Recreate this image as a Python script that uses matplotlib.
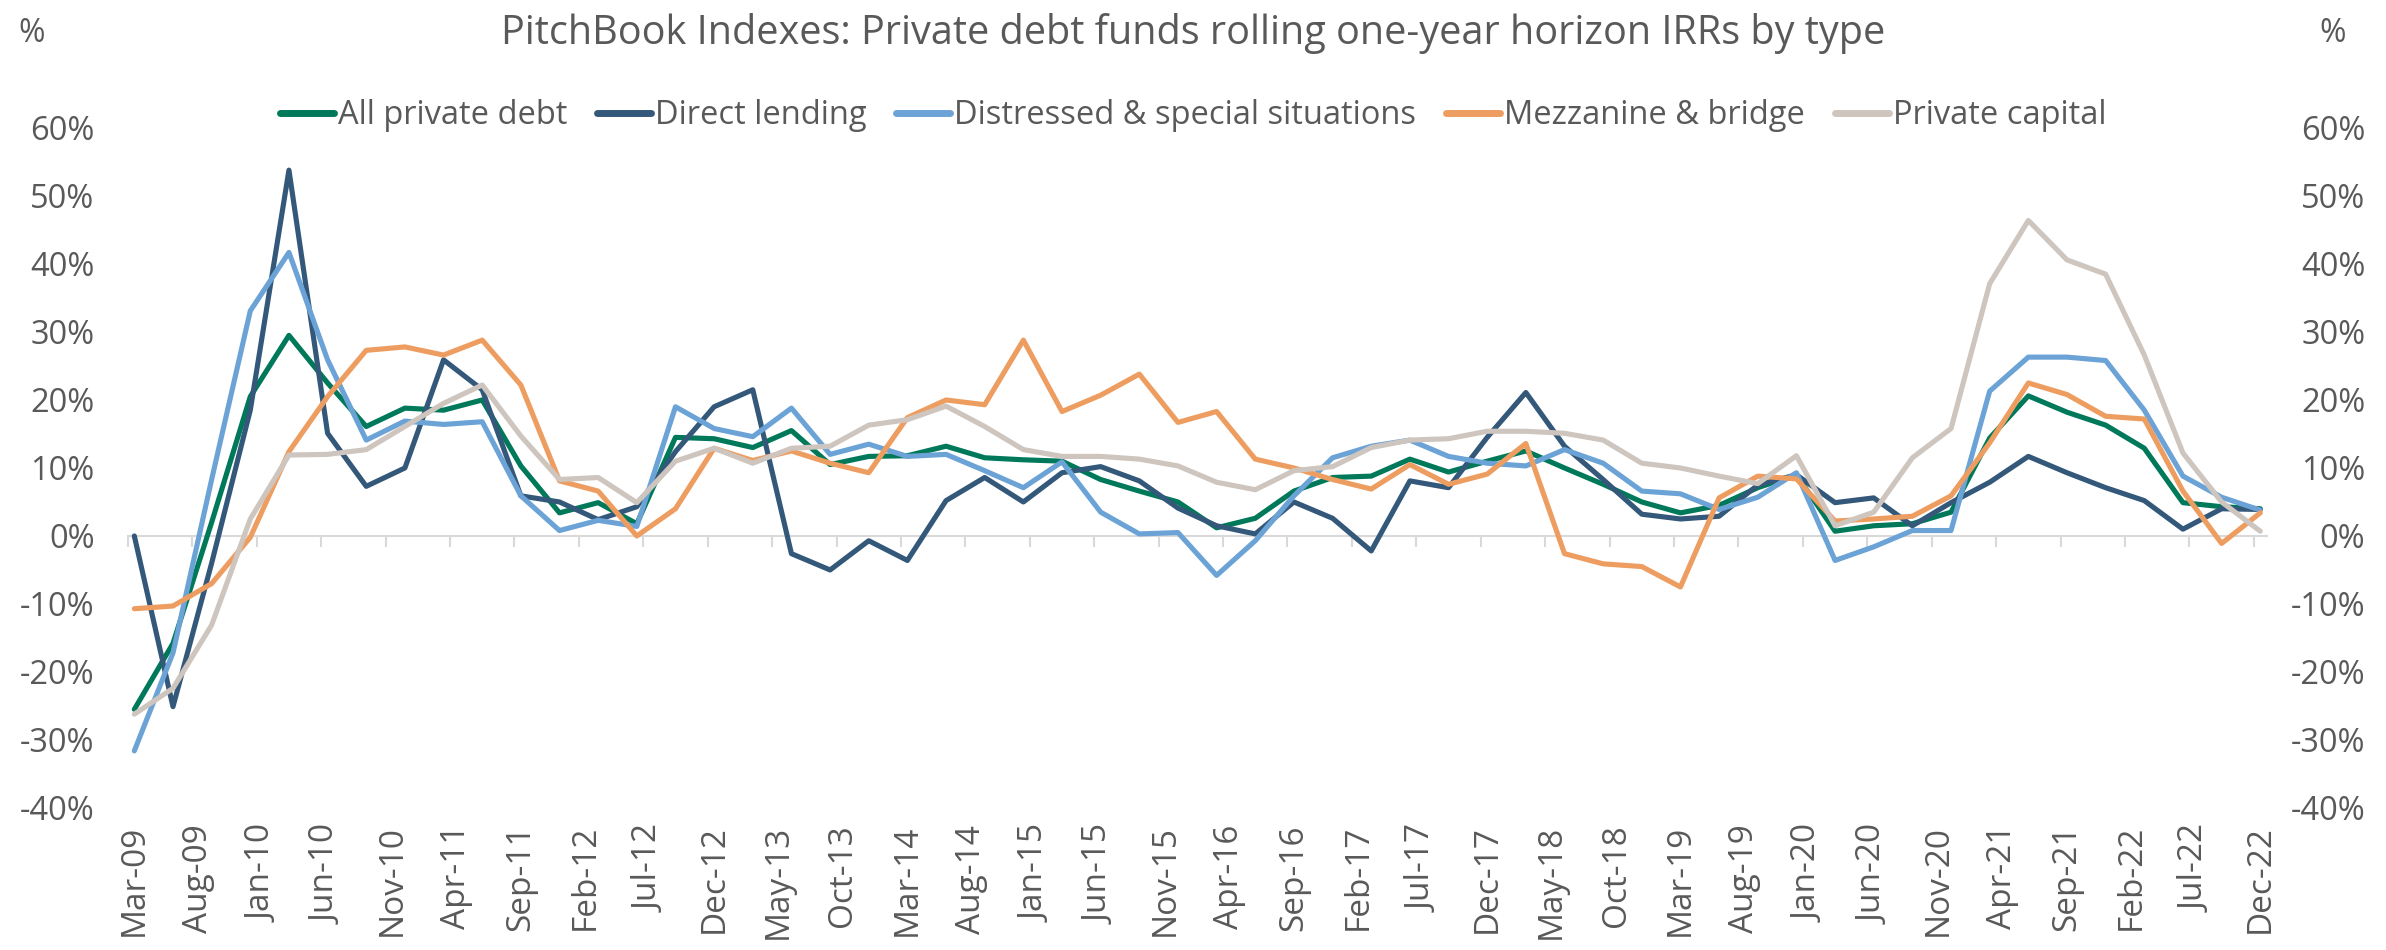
import matplotlib
matplotlib.use("Agg")
import matplotlib.pyplot as plt
import pandas as pd

plt.rcParams["font.family"] = ["Open Sans", "DejaVu Sans"]

TEXT = "#595959"

# quarterly observations, Mar-09 .. Dec-22
quarters = pd.period_range("2009Q1", "2022Q4", freq="Q")

all_private_debt = [
    -25.5, -15.8, 2.0, 20.5, 29.5, 22.5, 16.1, 18.8, 18.5, 20.0,
    10.3, 3.4, 4.9, 1.8, 14.5, 14.3, 13.0, 15.5, 10.5, 11.7,
    11.8, 13.2, 11.5, 11.2, 11.0, 8.3, 6.6, 5.0, 1.2, 2.6,
    6.6, 8.6, 8.8, 11.3, 9.4, 11.0, 12.5, 10.0, 7.6, 5.0,
    3.4, 4.5, 7.1, 9.0, 0.7, 1.5, 1.8, 3.5, 14.4, 20.6,
    18.2, 16.3, 12.9, 4.9, 4.3, 4.0,
]
direct_lending = [
    0.0, -25.1, -4.0, 18.5, 53.8, 15.1, 7.3, 10.0, 25.9, 21.5,
    5.9, 5.0, 2.4, 4.3, 12.4, 19.0, 21.5, -2.6, -5.0, -0.7,
    -3.6, 5.2, 8.6, 5.0, 9.3, 10.2, 8.1, 4.1, 1.5, 0.3,
    5.0, 2.6, -2.2, 8.1, 7.1, 14.5, 21.1, 13.2, 8.3, 3.2,
    2.5, 2.9, 7.5, 9.0, 4.9, 5.6, 1.5, 4.9, 7.9, 11.7,
    9.3, 7.1, 5.2, 1.0, 4.0, 3.9,
]
distressed = [
    -31.6, -17.2, 8.3, 33.1, 41.7, 25.9, 14.1, 16.9, 16.4, 16.8,
    5.9, 0.8, 2.3, 1.4, 19.0, 15.8, 14.6, 18.8, 12.0, 13.5,
    11.7, 12.0, 9.6, 7.1, 10.9, 3.5, 0.3, 0.5, -5.8, -0.7,
    5.9, 11.5, 13.2, 14.1, 11.7, 10.7, 10.3, 12.7, 10.7, 6.6,
    6.2, 3.9, 5.7, 9.3, -3.6, -1.6, 0.8, 0.8, 21.3, 26.3,
    26.3, 25.8, 18.5, 8.8, 5.7, 3.8,
]
mezzanine = [
    -10.7, -10.3, -7.0, -0.2, 12.4, 20.5, 27.3, 27.8, 26.6, 28.8,
    22.2, 8.1, 6.6, 0.0, 4.0, 12.9, 11.1, 12.5, 10.7, 9.3,
    17.4, 20.0, 19.3, 28.8, 18.3, 20.7, 23.8, 16.7, 18.3, 11.3,
    10.0, 8.3, 6.9, 10.5, 7.6, 9.1, 13.6, -2.6, -4.1, -4.5,
    -7.5, 5.6, 8.8, 8.4, 2.2, 2.5, 2.9, 5.9, 13.7, 22.5,
    20.8, 17.6, 17.2, 6.6, -1.1, 3.4,
]
private_capital = [
    -26.2, -22.4, -13.1, 2.5, 11.9, 12.0, 12.7, 16.1, 19.5, 22.2,
    14.7, 8.3, 8.6, 4.9, 11.0, 12.9, 10.7, 12.9, 13.2, 16.3,
    17.1, 19.1, 16.1, 12.7, 11.7, 11.7, 11.3, 10.3, 7.9, 6.8,
    9.6, 10.2, 13.0, 14.1, 14.3, 15.4, 15.4, 15.1, 14.1, 10.7,
    10.0, 8.8, 7.7, 11.8, 1.5, 3.5, 11.5, 15.8, 37.1, 46.4,
    40.6, 38.5, 26.6, 12.2, 5.0, 0.7,
]

series = [
    ("All private debt", all_private_debt, "#00785A"),
    ("Direct lending", direct_lending, "#34587A"),
    ("Distressed & special situations", distressed, "#6CA3D6"),
    ("Mezzanine & bridge", mezzanine, "#EE9D61"),
    ("Private capital", private_capital, "#CDC5BE"),
]

# date axis in months from Mar-09, points sit mid-month like Excel
def month_idx(p):
    t = p.asfreq("M", how="end")
    return (t.year - 2009) * 12 + t.month - 3

x = [month_idx(q) + 0.5 for q in quarters]
tick_periods = pd.period_range("2009-03", "2022-12", freq="5M")
tick_pos = [(p.year - 2009) * 12 + p.month - 3 for p in tick_periods]
tick_labels = [p.strftime("%b-%y") for p in tick_periods]
yticks = list(range(-40, 61, 10))

fig = plt.figure(figsize=(23.86, 9.5), dpi=100)
ax = fig.add_axes([0.0536, 0.1495, 0.8964, 0.7158])

for name, vals, col in series:
    ax.plot(x, vals, color=col, lw=3.7, label=name,
            solid_joinstyle="round", solid_capstyle="round")

ax.set_xlim(0, 166)
ax.set_ylim(-40, 60)
ax.set_yticks(yticks)
ax.set_yticklabels([f"{v}%" for v in yticks])
for s in ["top", "right", "left"]:
    ax.spines[s].set_visible(False)
ax.spines["bottom"].set_position(("data", 0))
ax.spines["bottom"].set_color("#D9D9D9")
ax.spines["bottom"].set_linewidth(1.5)
ax.spines["bottom"].set_zorder(0)
ax.set_xticks(tick_pos)
ax.tick_params(axis="x", direction="out", length=8, width=1.5, color="#D9D9D9",
               labelbottom=False)
ax.tick_params(axis="y", length=0, labelsize=23.5, labelcolor=TEXT, pad=24)

sec = ax.secondary_xaxis("bottom")
sec.set_xticks([p + 0.5 for p in tick_pos])
sec.set_xticklabels(tick_labels, rotation=90)
sec.tick_params(length=0, labelsize=24, labelcolor=TEXT, pad=12)
sec.spines["bottom"].set_visible(False)

ax2 = ax.twinx()
ax2.set_ylim(ax.get_ylim())
ax2.set_yticks(yticks)
ax2.set_yticklabels([f"{v}%" for v in yticks], ha="right")
ax2.tick_params(axis="y", length=0, labelsize=23.5, labelcolor=TEXT, pad=71)
for s in ax2.spines.values():
    s.set_visible(False)

fig.text(0.5, 0.965, "PitchBook Indexes: Private debt funds rolling one-year horizon IRRs by type",
         ha="center", va="center", fontsize=28.5, color=TEXT)
fig.text(0.0075, 0.965, "%", ha="left", va="center", fontsize=23, color=TEXT)
fig.text(0.972, 0.965, "%", ha="left", va="center", fontsize=23, color=TEXT)

leg = fig.legend(loc="center", bbox_to_anchor=(0.5, 0.878), ncol=5, frameon=False,
                 fontsize=23.5, handlelength=1.65, handletextpad=0.12, columnspacing=0.92)
for t in leg.get_texts():
    t.set_color(TEXT)
for h in leg.legend_handles:
    h.set_linewidth(5)
    h.set_solid_capstyle("round")

fig.savefig("out.png", dpi=100)
